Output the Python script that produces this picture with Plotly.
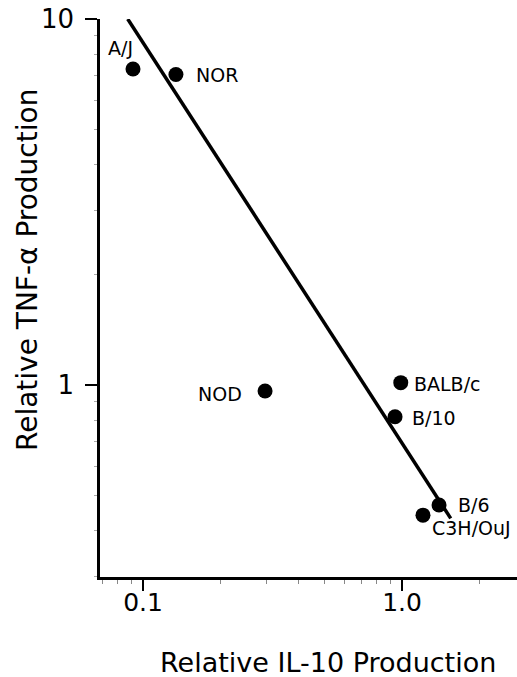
import math
import plotly.graph_objects as go

# Data
strains = ["A/J", "NOR", "NOD", "BALB/c", "B/10", "B/6", "C3H/OuJ"]
il10 = [0.0915, 0.134, 0.296, 0.989, 0.94, 1.39, 1.205]
tnf = [7.30, 7.05, 0.963, 1.015, 0.819, 0.47, 0.441]

# regression line end points
fit_x = [0.0873, 1.542]
fit_y = [10.0, 0.432]

x_tickvals = [0.1, 1.0]
x_ticktext = ["0.1", "1.0"]
y_tickvals = [1, 10]
y_ticktext = ["1", "10"]

# label placement (pixel offsets from each point, anchor)
label_style = {
    "A/J": dict(xanchor="center", xshift=-13, yshift=21),
    "NOR": dict(xanchor="left", xshift=18, yshift=0),
    "NOD": dict(xanchor="right", xshift=-21, yshift=-3),
    "BALB/c": dict(xanchor="left", xshift=11, yshift=-1),
    "B/10": dict(xanchor="left", xshift=15, yshift=-1),
    "B/6": dict(xanchor="left", xshift=17, yshift=0),
    "C3H/OuJ": dict(xanchor="left", xshift=7, yshift=-13),
}

FONT = "'DejaVu Sans', Arial, sans-serif"

fig = go.Figure()
fig.add_trace(go.Scatter(x=fit_x, y=fit_y, mode="lines",
                         line=dict(color="black", width=3.5), showlegend=False,
                         hoverinfo="skip"))
fig.add_trace(go.Scatter(x=il10, y=tnf, mode="markers",
                         marker=dict(color="black", size=15), showlegend=False,
                         text=strains))

for s, xv, yv in zip(strains, il10, tnf):
    st = label_style[s]
    fig.add_annotation(x=math.log10(xv), y=math.log10(yv), xref="x", yref="y",
                       text=s, showarrow=False, yanchor="middle",
                       font=dict(family=FONT, size=19, color="black"), **st)

fig.add_annotation(text="Relative IL-10 Production", xref="paper", yref="paper",
                   x=(328 - 100) / 417, y=-(662 - 577) / 558, xanchor="center", yanchor="middle",
                   showarrow=False, font=dict(family=FONT, size=27, color="black"))
fig.add_annotation(text="Relative TNF-α Production", xref="paper", yref="paper",
                   x=-(100 - 27) / 417, y=(577 - 270) / 558, xanchor="center", yanchor="middle",
                   textangle=-90, showarrow=False,
                   font=dict(family=FONT, size=28, color="black"))

fig.update_xaxes(type="log", range=[-1.166, 0.444], tickvals=x_tickvals, ticktext=x_ticktext,
                 automargin=False, ticklabelstandoff=-10,
                 showgrid=False, zeroline=False, showline=True, linecolor="black", linewidth=2.5,
                 ticks="outside", ticklen=11, tickwidth=1.5, tickcolor="black",
                 tickfont=dict(family=FONT, size=25, color="black"),
                 minor=dict(ticks="outside", ticklen=4, tickcolor="#888", tickwidth=1, dtick="D1", showgrid=False))
fig.update_yaxes(type="log", range=[-0.5246, 1.0], tickvals=y_tickvals, ticktext=y_ticktext,
                 automargin=False, ticklabelstandoff=6,
                 showgrid=False, zeroline=False, showline=True, linecolor="black", linewidth=2.5,
                 ticks="outside", ticklen=12, tickwidth=1.5, tickcolor="black",
                 tickfont=dict(family=FONT, size=26, color="black"),
                 minor=dict(ticks="outside", ticklen=3, tickcolor="#aaa", tickwidth=1, dtick="D1", showgrid=False))

fig.update_layout(width=517, height=677, margin=dict(l=100, r=0, t=19, b=100, autoexpand=False),
                  plot_bgcolor="white", paper_bgcolor="white", showlegend=False)

fig.write_html("out.html", config={"displayModeBar": False},
               post_script="document.body.style.margin='0';document.body.style.padding='0';")
